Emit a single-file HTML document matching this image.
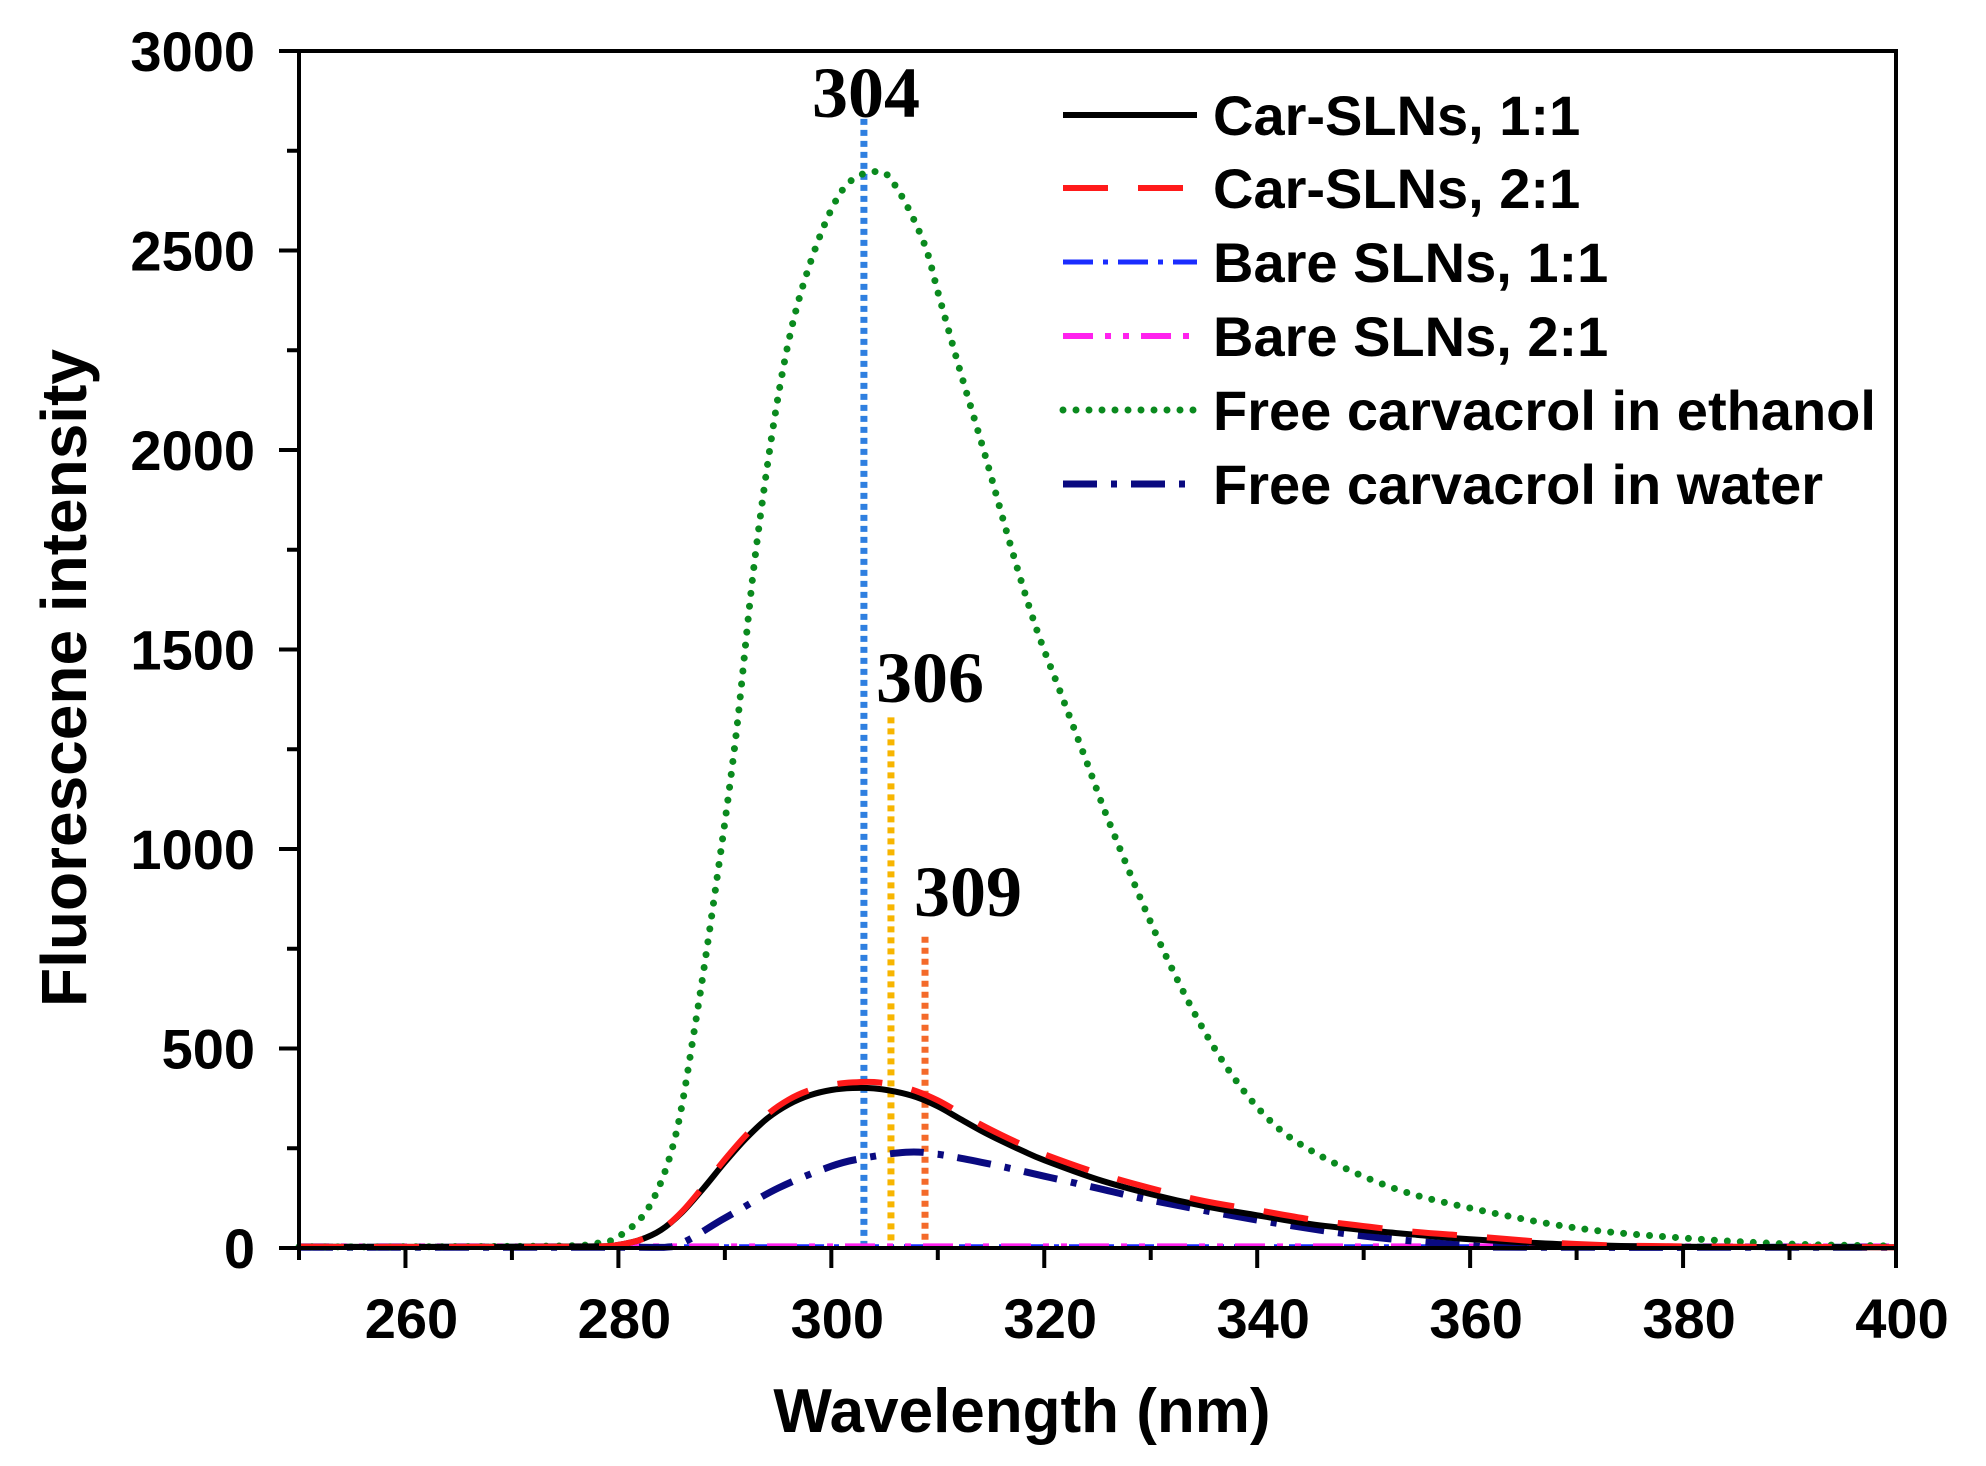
<!DOCTYPE html>
<html><head><meta charset="utf-8"><style>
html,body{margin:0;padding:0;background:#fff;}
svg{display:block;}
</style></head><body>
<svg id="chart" width="1986" height="1466" viewBox="0 0 1986 1466" xmlns="http://www.w3.org/2000/svg" font-family="'Liberation Sans', Arial, sans-serif">
<g id="plot"></g>
</svg>
<script>
const xTicksMajor=[260,280,300,320,340,360,380,400];
const xTicksMinor=[250,270,290,310,330,350,370,390];
const yTicksMajor=[0,500,1000,1500,2000,2500,3000];
const yTicksMinor=[250,750,1250,1750,2250,2750];

const ethanolX=[250,260,270,276,278,280,282.9,285.3,287.2,289.1,291,292.9,295.3,297.7,301,304.4,306.3,308.7,310.1,312.1,314.4,316.8,319.2,321.6,324,326.4,331.2,336,340.8,345.6,352.7,360,370,380,390,400];
const ethanolY=[3,3,4,6,12,28,104,274,557,896,1274,1745,2179,2443,2650,2698,2650,2519,2387,2198,1991,1764,1557,1387,1217,1047,745,500,330,236,151,100,50,25,10,5];
const car11X=[250,270,278,280,282,284,286,288,290,292,294,296,298,300,302,304,306,308,310,312,314,316,318,320,325,330,335,340,345,350,355,360,370,380,400];
const car11Y=[3,3,4,8,20,45,90,150,215,275,325,360,383,396,401,400,392,378,355,325,295,268,243,220,172,135,105,82,60,45,33,22,8,3,2];
const car21X=[250,270,278,280,282,284,286,288,290,292,294,296,298,300,302,304,306,308,310,312,314,316,318,320,325,330,335,340,345,350,355,360,370,380,400];
const car21Y=[3,3,4,8,20,45,92,155,222,283,335,372,396,409,415,416,408,393,370,340,310,283,258,235,188,150,118,95,72,55,40,30,10,4,2];
const waterX=[250,280,285,290,295,300,303,307,310,315,320,325,330,340,350,360,365,400];
const waterY=[2,2,3,75,150,205,225,240,235,210,180,150,120,70,30,6,2,2];
const bare11X=[250,300,350,400];
const bare11Y=[3,3,3,3];
const bare21X=[250,300,350,400];
const bare21Y=[4,4,4,4];
const peakLabels=["304","306","309"];
const peakX=[303.06,305.6,308.8];
const peakTop=[2830,1330,780];
const legendLabels=["Car-SLNs, 1:1","Car-SLNs, 2:1","Bare SLNs, 1:1","Bare SLNs, 2:1","Free carvacrol in ethanol","Free carvacrol in water"];

const X0=299,X1=1896,Y0=1248,Y1=51;
const xs=v=>X0+(v-250)/(400-250)*(X1-X0);
const ys=v=>Y0-(v/3000)*(Y0-Y1);
const NS="http://www.w3.org/2000/svg";
const plot=document.getElementById('plot');
function mk(tag,attrs,parent){const e=document.createElementNS(NS,tag);for(const k in attrs)e.setAttribute(k,attrs[k]);(parent||plot).appendChild(e);return e;}
function pathFor(xa,ya){
  const p=xa.map((x,i)=>[xs(x),ys(ya[i])]);
  let d=`M${p[0][0]},${p[0][1]}`;
  for(let i=0;i<p.length-1;i++){
    const p0=p[Math.max(0,i-1)],p1=p[i],p2=p[i+1],p3=p[Math.min(p.length-1,i+2)];
    const c1=[p1[0]+(p2[0]-p0[0])/6,Math.min(Y0,p1[1]+(p2[1]-p0[1])/6)];
    const c2=[p2[0]-(p3[0]-p1[0])/6,Math.min(Y0,p2[1]-(p3[1]-p1[1])/6)];
    d+=` C${c1[0]},${c1[1]} ${c2[0]},${c2[1]} ${p2[0]},${p2[1]}`;
  }
  return d;
}
const styles=[
 {stroke:"#000",w:6,dash:"",cap:"butt"},
 {stroke:"#ff1a1a",w:6,dash:"45 30",cap:"butt"},
 {stroke:"#1a2cff",w:5,dash:"30 10 5 10",cap:"butt"},
 {stroke:"#ff22ee",w:6,dash:"30 12 6 12 6 12",cap:"butt"},
 {stroke:"#0a8a1e",w:7,dash:"0 13",cap:"round"},
 {stroke:"#0a0a80",w:7,dash:"34 14 6 14",cap:"butt"}
];
const seriesNames=["car-sln-1-1","car-sln-2-1","bare-sln-1-1","bare-sln-2-1","carvacrol-ethanol","carvacrol-water"];

const peakColors=["#2f7fe0","#f7b500","#f46a2a"];
peakX.forEach((px,i)=>{
  const l=mk('line',{x1:xs(px),x2:xs(px),y1:ys(peakTop[i]),y2:Y0,stroke:peakColors[i],'stroke-width':7,'stroke-dasharray':'6 5'});
  
  
});

const seriesData=[[bare11X,bare11Y],[bare21X,bare21Y],[waterX,waterY],[ethanolX,ethanolY],[car11X,car11Y],[car21X,car21Y]];
const seriesIdx=[2,3,5,4,0,1];
seriesData.forEach((s,j)=>{
  const st=styles[seriesIdx[j]];
  const p=mk('path',{d:pathFor(s[0],s[1]),fill:'none',stroke:st.stroke,'stroke-width':st.w,'stroke-dasharray':st.dash,'stroke-linecap':st.cap,'stroke-linejoin':'round'});
  
  
});

peakX.forEach((px,i)=>{
  const cx=[866,930,968][i], by=[117,702,916][i];
  const t=mk('text',{x:cx,y:by,'text-anchor':'middle','font-family':"'Liberation Serif',serif",'font-weight':'bold','font-size':72,fill:'#000'});
  t.textContent=peakLabels[i];
  
  
});

const fr=mk('rect',{x:X0,y:Y1,width:X1-X0,height:Y0-Y1,fill:'none',stroke:'#000','stroke-width':4});



xTicksMajor.forEach(v=>{
  const l=mk('line',{x1:xs(v),x2:xs(v),y1:Y0,y2:Y0+20,stroke:'#000','stroke-width':4});
  
  
  const t=mk('text',{x:xs(v)+6,y:1338,'text-anchor':'middle','font-weight':'bold','font-size':56,fill:'#000'});
  t.textContent=v;
  
  
});
xTicksMinor.forEach(v=>{
  const l=mk('line',{x1:xs(v),x2:xs(v),y1:Y0,y2:Y0+12,stroke:'#000','stroke-width':4});
  
  
});
yTicksMajor.forEach(v=>{
  const l=mk('line',{x1:X0-20,x2:X0,y1:ys(v),y2:ys(v),stroke:'#000','stroke-width':4});
  
  
  const t=mk('text',{x:255,y:ys(v)+20,'text-anchor':'end','font-weight':'bold','font-size':56,fill:'#000'});
  t.textContent=v;
  
  
});
yTicksMinor.forEach(v=>{
  const l=mk('line',{x1:X0-12,x2:X0,y1:ys(v),y2:ys(v),stroke:'#000','stroke-width':4});
  
  
});

const xt=mk('text',{x:1022,y:1432,'text-anchor':'middle','font-weight':'bold','font-size':62,fill:'#000'});
xt.textContent="Wavelength (nm)";


const yt=mk('text',{x:0,y:0,'text-anchor':'middle','font-weight':'bold','font-size':64,fill:'#000',transform:'translate(86,678) rotate(-90)'});
yt.textContent="Fluorescene intensity";



const legRows=[115,188,262,336,410,484];
legendLabels.forEach((lab,i)=>{
  const st=styles[i];
  const g=mk('g',{});
  
  
  mk('line',{x1:1063,x2:1197,y1:legRows[i],y2:legRows[i],stroke:st.stroke,'stroke-width':st.w,'stroke-dasharray':st.dash,'stroke-linecap':st.cap},g);
  const t=mk('text',{x:1213,y:legRows[i]+20,'font-weight':'bold','font-size':56,fill:'#000'},g);
  t.textContent=lab;
});
</script>
</body></html>
